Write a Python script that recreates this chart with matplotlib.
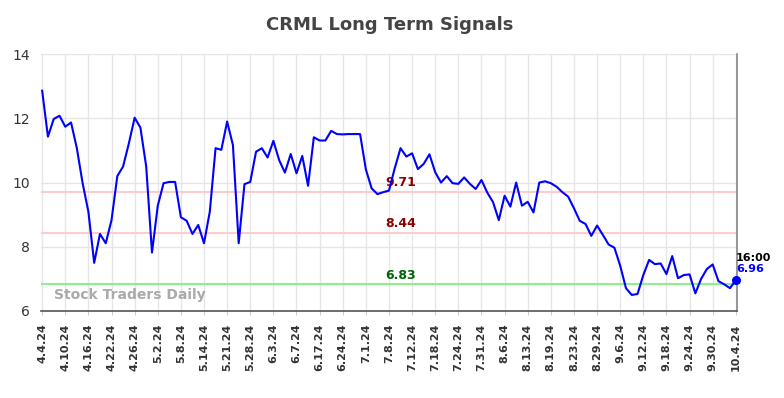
import numpy as np
import matplotlib
matplotlib.use('Agg')
import matplotlib.pyplot as plt

# tick labels (every 4th trading day)
tick_labels = ['4.4.24', '4.10.24', '4.16.24', '4.22.24', '4.26.24', '5.2.24', '5.8.24',
               '5.14.24', '5.21.24', '5.28.24', '6.3.24', '6.7.24', '6.17.24', '6.24.24',
               '7.1.24', '7.8.24', '7.12.24', '7.18.24', '7.24.24', '7.31.24', '8.6.24',
               '8.13.24', '8.19.24', '8.23.24', '8.29.24', '9.6.24', '9.12.24', '9.18.24',
               '9.24.24', '9.30.24', '10.4.24']

# daily closes
prices = [12.86, 11.43, 11.98, 12.08, 11.74, 11.87, 11.07, 9.98, 9.09, 7.50,
          8.40, 8.11, 8.83, 10.20, 10.50, 11.22, 12.02, 11.71, 10.50, 7.82,
          9.28, 9.98, 10.02, 10.02, 8.92, 8.81, 8.40, 8.68, 8.11, 9.09,
          11.07, 11.02, 11.90, 11.17, 8.11, 9.95, 10.02, 10.96, 11.07, 10.78,
          11.30, 10.70, 10.31, 10.89, 10.29, 10.83, 9.90, 11.41, 11.31, 11.31,
          11.61, 11.51, 11.50, 11.51, 11.51, 11.51, 10.41, 9.82, 9.64, 9.70,
          9.75, 10.45, 11.07, 10.81, 10.91, 10.42, 10.58, 10.88, 10.32, 10.00,
          10.20, 9.98, 9.96, 10.16, 9.96, 9.80, 10.08, 9.69, 9.39, 8.83,
          9.59, 9.25, 10.00, 9.28, 9.40, 9.07, 10.00, 10.04, 9.98, 9.87,
          9.70, 9.56, 9.20, 8.81, 8.71, 8.34, 8.66, 8.37, 8.07, 7.97,
          7.41, 6.71, 6.50, 6.53, 7.12, 7.59, 7.46, 7.48, 7.15, 7.71,
          7.02, 7.12, 7.14, 6.55, 7.00, 7.31, 7.45, 6.93, 6.83, 6.71,
          6.96]

# signal levels
levels = [9.71, 8.44, 6.83]
level_colors = ['#ffcccc', '#ffcccc', '#90ee90']
label_colors = ['#8b0000', '#8b0000', '#006400']

x = np.arange(len(prices))

fig = plt.figure(figsize=(7.84, 3.98), dpi=100)
ax = fig.add_axes([0.0523, 0.2186, 0.8877, 0.6454])

ax.grid(True, color='#e6e6e6', linewidth=1)
ax.set_axisbelow(True)

for lvl, lc, tc in zip(levels, level_colors, label_colors):
    ax.axhline(lvl, color=lc, linewidth=1.5, zorder=1)
    ax.text(62, lvl + 0.08, f'{lvl:.2f}', color=tc, fontsize=9, fontweight='bold',
            ha='center', va='bottom')

ax.plot(x, prices, color='#0000ff', linewidth=1.5, zorder=3)
ax.plot(x[-1], prices[-1], 'o', color='#0000ff', markersize=5.5, zorder=4, clip_on=False)
ax.text(x[-1], prices[-1] + 0.55, '16:00', color='black', fontsize=8,
        fontweight='bold', ha='left', va='bottom')
ax.text(x[-1], prices[-1] + 0.2, f'{prices[-1]:.2f}', color='#0000ff', fontsize=8,
        fontweight='bold', ha='left', va='bottom')

ax.text(0.018, 0.035, 'Stock Traders Daily', transform=ax.transAxes, color='#aaaaaa',
        fontsize=10, fontweight='bold', ha='left', va='bottom')

ax.set_xlim(-0.2, len(prices) - 0.8)
ax.set_ylim(6, 14)
ax.set_yticks([6, 8, 10, 12, 14])
ax.set_xticks(np.arange(0, len(prices), 4))
ax.set_xticklabels(tick_labels, rotation=90, fontsize=8, fontweight='bold', color='#333333')
ax.tick_params(axis='y', labelsize=10, colors='#333333', length=0, pad=8)
ax.tick_params(axis='x', length=3, color='#cccccc', pad=6)

ax.spines['top'].set_visible(False)
ax.spines['left'].set_visible(False)
ax.spines['bottom'].set_color('#555555')
ax.spines['right'].set_color('#888888')
ax.spines['bottom'].set_linewidth(1.2)
ax.spines['right'].set_linewidth(1.2)

fig.suptitle('CRML Long Term Signals', x=0.497, y=0.96, fontsize=13,
             fontweight='bold', color='#444444')

fig.savefig('out.png', dpi=100)
